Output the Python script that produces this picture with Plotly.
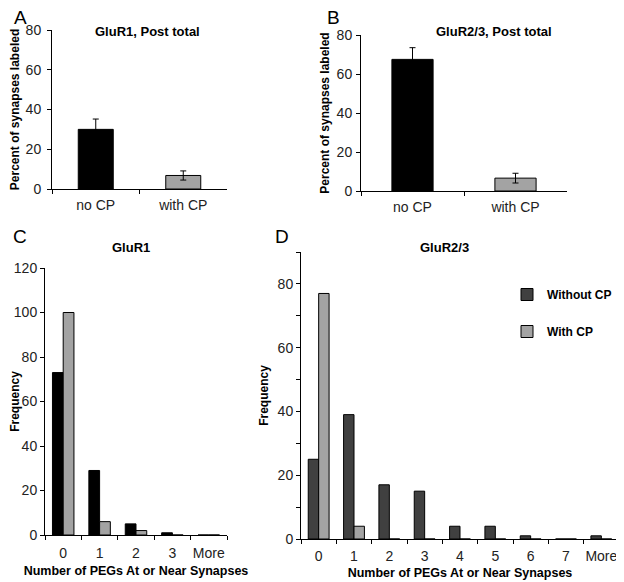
import plotly.graph_objects as go

# ---- data ----
ab_categories = ["no CP", "with CP"]
a_values = [30, 6.8]
a_errors = [5.2, 2.3]
b_values = [67.5, 6.6]
b_errors = [6.0, 2.5]

c_categories = ["0", "1", "2", "3", "More"]
c_without = [73, 29, 5, 1, 0]
c_with = [100, 6, 2, 0, 0]

d_categories = ["0", "1", "2", "3", "4", "5", "6", "7", "More"]
d_without = [25, 39, 17, 15, 4, 4, 1, 0, 1]
d_with = [77, 4, 0, 0, 0, 0, 0, 0, 0]

# page body has an 8px margin, so the figure is a bit smaller than the window
OFF = 8
W, H = 624 - OFF, 582 - OFF
FONT = "Liberation Sans, Arial, sans-serif"
GRAY = "#a3a3a3"
DARK = "#404040"


def px(x):
    return (x - OFF) / W


def py(y):
    return 1 - (y - OFF) / H


fig = go.Figure()

# Panel A
fig.add_trace(go.Bar(x=ab_categories, y=a_values, width=0.4,
                     marker=dict(color=["#000000", GRAY], line=dict(color="black", width=1)),
                     error_y=dict(type="data", array=a_errors, color="black", thickness=1, width=3),
                     xaxis="x", yaxis="y", showlegend=False))
# Panel B
fig.add_trace(go.Bar(x=ab_categories, y=b_values, width=0.4,
                     marker=dict(color=["#000000", GRAY], line=dict(color="black", width=1)),
                     error_y=dict(type="data", array=b_errors, color="black", thickness=1, width=3),
                     xaxis="x2", yaxis="y2", showlegend=False))
# Panel C
fig.add_trace(go.Bar(x=c_categories, y=c_without, name="Without CP",
                     marker=dict(color="#000000", line=dict(color="black", width=1)),
                     xaxis="x3", yaxis="y3", showlegend=False))
fig.add_trace(go.Bar(x=c_categories, y=c_with, name="With CP",
                     marker=dict(color=GRAY, line=dict(color="black", width=1)),
                     xaxis="x3", yaxis="y3", showlegend=False))
# Panel D
fig.add_trace(go.Bar(x=d_categories, y=d_without, name="Without CP", legendgroup="a",
                     marker=dict(color=DARK, line=dict(color="black", width=1)),
                     xaxis="x4", yaxis="y4"))
fig.add_trace(go.Bar(x=d_categories, y=d_with, name="With CP", legendgroup="b",
                     marker=dict(color=GRAY, line=dict(color="black", width=1)),
                     xaxis="x4", yaxis="y4"))

axis_common = dict(showline=True, linecolor="black", linewidth=1, ticks="outside",
                   tickcolor="black", ticklen=4, showgrid=False, zeroline=False,
                   automargin=False,
                   tickfont=dict(family=FONT, size=14, color="#222"))
xcommon = dict(type="category", tickson="boundaries", tickangle=0, **axis_common)
title_font = dict(family=FONT, size=12, color="black", weight="bold")
xtitle_font = dict(family=FONT, size=12.5, color="black", weight="bold")

fig.update_layout(
    width=W, height=H,
    margin=dict(l=0, r=0, t=0, b=0),
    paper_bgcolor="white", plot_bgcolor="white",
    barmode="group", bargap=0.41, bargroupgap=0,
    font=dict(family=FONT, color="black"),
    xaxis=dict(domain=[px(52), px(227)], anchor="y", ticklabelstandoff=3, **xcommon),
    yaxis=dict(domain=[py(189), py(30)], anchor="x", range=[0, 80], dtick=20,
               ticklabelstandoff=3,
               title=dict(text="Percent of synapses labeled", font=title_font, standoff=6),
               **axis_common),
    xaxis2=dict(domain=[px(361), px(567)], anchor="y2", ticklabelstandoff=3, **xcommon),
    yaxis2=dict(domain=[py(191), py(35)], anchor="x2", range=[0, 80], dtick=20,
                ticklabelstandoff=1,
                title=dict(text="Percent of synapses labeled", font=title_font, standoff=4),
                **axis_common),
    xaxis3=dict(domain=[px(45), px(227)], anchor="y3", ticklabelstandoff=5, **xcommon,
                title=dict(text="Number of PEGs At or Near Synapses", font=xtitle_font, standoff=6)),
    yaxis3=dict(domain=[py(535), py(268)], anchor="x3", range=[0, 120], dtick=20,
                title=dict(text="Frequency", font=title_font, standoff=6),
                **axis_common),
    xaxis4=dict(domain=[px(301), px(619)], anchor="y4", ticklabelstandoff=4, **xcommon,
                title=dict(text="Number of PEGs At or Near Synapses", font=xtitle_font, standoff=5)),
    yaxis4=dict(domain=[py(539), py(252)], anchor="x4", range=[0, 90], dtick=20,
                minor=dict(dtick=10, ticks="outside", ticklen=4, tickcolor="black"),
                title=dict(text="Frequency", font=title_font, standoff=6),
                **axis_common),
    legend=dict(x=px(507), y=py(280), xanchor="left", yanchor="top",
                font=dict(family=FONT, size=12, color="black", weight="bold"),
                tracegroupgap=18, itemwidth=30, bgcolor="rgba(0,0,0,0)"),
)

annots = [
    ("A", 20, 18, 19, False), ("B", 333, 18, 19, False),
    ("C", 20, 236, 19, False), ("D", 282, 236, 19, False),
    ("GluR1, Post total", 147, 32, 13, True),
    ("GluR2/3, Post total", 494, 32, 13, True),
    ("GluR1", 131, 247, 13, True),
    ("GluR2/3", 444, 247, 13, True),
]
for text, x, y, size, bold in annots:
    fig.add_annotation(text=text, x=px(x), y=py(y), xref="paper", yref="paper",
                       showarrow=False, xanchor="center", yanchor="middle",
                       font=dict(family=FONT, size=size, color="black",
                                 weight="bold" if bold else "normal"))

fig.write_html("out.html")
